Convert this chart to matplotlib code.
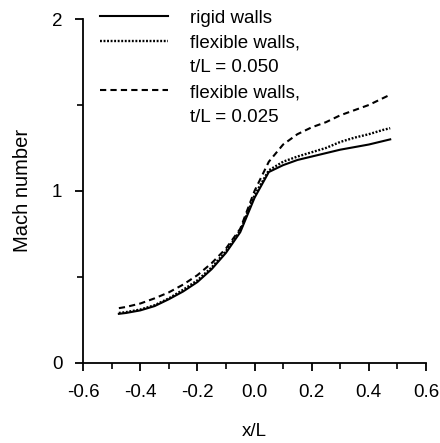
import matplotlib
matplotlib.use("Agg")
import matplotlib.pyplot as plt
from matplotlib.lines import Line2D
from matplotlib.ticker import MultipleLocator

plt.rcParams['font.family'] = ['Liberation Sans', 'DejaVu Sans']

# x/L stations
x = [-0.475, -0.45, -0.4, -0.35, -0.3, -0.25, -0.2, -0.15, -0.1, -0.05,
     0.0, 0.05, 0.1, 0.15, 0.2, 0.25, 0.3, 0.35, 0.4, 0.45, 0.475]

# Mach number, rigid walls
rigid = [0.285, 0.29, 0.305, 0.33, 0.37, 0.415, 0.47, 0.545, 0.64, 0.76,
         0.96, 1.11, 1.15, 1.18, 1.20, 1.22, 1.24, 1.255, 1.27, 1.29, 1.30]

# flexible walls, t/L = 0.050
flex050 = [0.29, 0.295, 0.31, 0.335, 0.375, 0.425, 0.48, 0.555, 0.65, 0.77,
           0.975, 1.12, 1.17, 1.20, 1.225, 1.25, 1.285, 1.31, 1.33, 1.355, 1.365]

# flexible walls, t/L = 0.025
flex025 = [0.318, 0.325, 0.345, 0.375, 0.41, 0.455, 0.51, 0.58, 0.665, 0.78,
           1.0, 1.17, 1.27, 1.33, 1.37, 1.40, 1.44, 1.47, 1.50, 1.54, 1.56]

fs = 13.5

fig = plt.figure(figsize=(4.4, 4.43), dpi=100)
ax = fig.add_axes([0.189, 0.181, 0.779, 0.776])

l1, = ax.plot(x, rigid, color='black', lw=1.5, linestyle='-')
l2, = ax.plot(x, flex050, color='black', lw=1.7, linestyle=(0, (0.8, 0.7)))
l3, = ax.plot(x, flex025, color='black', lw=1.5, linestyle=(0, (3, 2)))

ax.set_xlim(-0.6, 0.6)
ax.set_ylim(0, 2)
ax.spines['top'].set_visible(False)
ax.spines['right'].set_visible(False)
ax.spines['left'].set_linewidth(1.3)
ax.spines['bottom'].set_linewidth(1.3)

ax.xaxis.set_minor_locator(MultipleLocator(0.1))
ax.yaxis.set_minor_locator(MultipleLocator(0.5))
ax.set_xticks([-0.6, -0.4, -0.2, 0.0, 0.2, 0.4, 0.6])
ax.set_xticklabels(['-0.6', '-0.4', '-0.2', '0.0', '0.2', '0.4', '0.6'])
ax.set_yticks([0, 1, 2])
ax.set_yticklabels(['0', '1', '2'])
ax.tick_params(which='major', direction='out', length=6, width=1.3, labelsize=fs, pad=9)
ax.tick_params(which='minor', direction='out', length=4, width=1.2)

ax.set_xlabel('x/L', fontsize=fs, labelpad=16)
ax.set_ylabel('Mach number', fontsize=14.5, labelpad=14)

blank = Line2D([], [], linestyle='none')
ax.legend([l1, l2, blank, l3, blank],
          ['rigid walls', 'flexible walls,', 't/L = 0.050', 'flexible walls,', 't/L = 0.025'],
          loc='upper left', bbox_to_anchor=(0.0, 1.077), frameon=False, fontsize=fs,
          handlelength=3.6, handletextpad=1.2, labelspacing=0.41)

fig.savefig('out.png', dpi=100)
